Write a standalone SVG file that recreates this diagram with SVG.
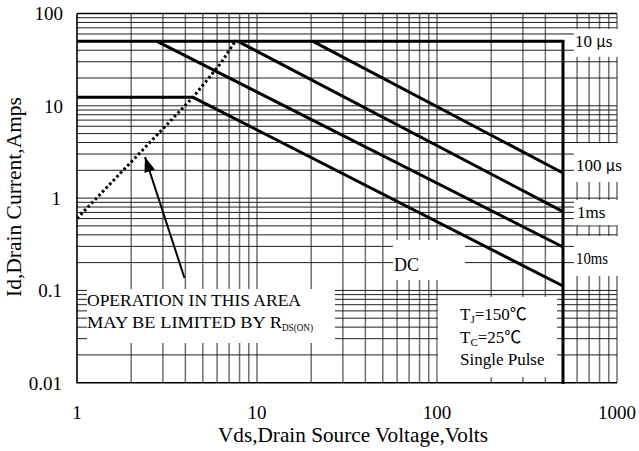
<svg xmlns="http://www.w3.org/2000/svg" width="639" height="451" viewBox="0 0 639 451">
<style>
.hg{stroke:#1e1e1e;stroke-width:1;fill:none}
.vg{stroke:#707070;stroke-width:1.5;fill:none}
.ax{stroke:#000;stroke-width:1.6;fill:none}
.soa{stroke:#000;stroke-width:3;fill:none;stroke-linejoin:miter}
.box{fill:#fff;stroke:none}
text{font-family:"Liberation Serif","Times New Roman",serif;fill:#000}
.tick{font-size:19px}
.ttl{font-size:21px}
.lbl{font-size:17px}
.sub{font-size:11px}
.cjk{font-family:"Noto Sans CJK SC","Liberation Serif",serif}
</style>
<defs>
<marker id="ah" markerUnits="userSpaceOnUse" markerWidth="16" markerHeight="12" refX="15" refY="5.5" orient="auto">
<path d="M0,0 L15,5.5 L0,11 z" fill="#000"/>
</marker>
</defs>
<rect width="639" height="451" fill="#fff"/>
<g id="grid">
<path class="vg" d="M131.19,13.5V382.7M162.88,13.5V382.7M185.37,13.5V382.7M202.81,13.5V382.7M217.07,13.5V382.7M229.12,13.5V382.7M239.56,13.5V382.7M248.76,13.5V382.7M257,13.5V382.7M311.19,13.5V382.7M342.88,13.5V382.7M365.37,13.5V382.7M382.81,13.5V382.7M397.07,13.5V382.7M409.12,13.5V382.7M419.56,13.5V382.7M428.76,13.5V382.7M437,13.5V382.7M491.19,13.5V382.7M522.88,13.5V382.7M545.37,13.5V382.7M577.07,13.5V382.7M589.12,13.5V382.7M599.56,13.5V382.7M608.76,13.5V382.7M617,13.5V382.7"/>
<path class="hg" d="M77,17.72H617M77,22.44H617M77,27.8H617M77,33.98H617M77,50.23H617M77,61.76H617M77,78.01H617M77,105.8H617M77,110.02H617M77,114.74H617M77,120.1H617M77,126.28H617M77,133.59H617M77,142.53H617M77,154.06H617M77,170.31H617M77,198.1H617M77,202.32H617M77,207.04H617M77,212.4H617M77,218.58H617M77,225.89H617M77,234.83H617M77,246.36H617M77,262.61H617M77,290.4H617M77,294.62H617M77,299.34H617M77,304.7H617M77,310.88H617M77,318.19H617M77,327.13H617M77,338.66H617M77,354.91H617"/>
<path class="ax" d="M77,13.5H617M77,13.5V382.7H617"/>
</g>
<g id="label-boxes">
<rect class="box" x="574" y="28.8" width="45" height="28"/>
<rect class="box" x="574" y="143.2" width="45" height="38.8"/>
<rect class="box" x="574" y="200" width="45" height="25.3"/>
<rect class="box" x="574" y="236" width="45" height="40"/>
<rect class="box" x="393" y="240" width="72" height="40"/>
<rect class="box" x="87" y="289" width="248" height="54"/>
<rect class="box" x="437.8" y="297" width="119.2" height="80"/>
</g>
<g id="connectors">
<path class="soa" d="M77,41.3H563V384"/>
<path class="soa" d="M313,41.3L563,173"/>
<path class="soa" d="M238,41.3L563,211.7"/>
<path class="soa" d="M157,41.3L563,247"/>
<path class="soa" d="M77,97.3H193L563,286"/>
<path d="M77,218.5L145,147.5L193,97.3L221,63L236,40" fill="none" stroke="#000" stroke-width="3" stroke-dasharray="2.6 2.6"/>
<path d="M184.5,278L145,157" fill="none" stroke="#000" stroke-width="2" marker-end="url(#ah)"/>
</g>
<g id="axis-labels">
<text class="tick" x="63" y="20" text-anchor="end">100</text>
<text class="tick" x="63" y="112.5" text-anchor="end">10</text>
<text class="tick" x="61" y="205" text-anchor="end">1</text>
<text class="tick" x="62" y="297" text-anchor="end">0.1</text>
<text class="tick" x="62" y="389.5" text-anchor="end">0.01</text>
<text class="tick" x="77" y="419" text-anchor="middle">1</text>
<text class="tick" x="257" y="419" text-anchor="middle">10</text>
<text class="tick" x="437" y="419" text-anchor="middle">100</text>
<text class="tick" x="617" y="419" text-anchor="middle">1000</text>
<text class="ttl" x="218" y="441.5" textLength="270" lengthAdjust="spacingAndGlyphs">Vds,Drain Source Voltage,Volts</text>
<text class="ttl" transform="translate(21,197) rotate(-90)" x="0" y="0" text-anchor="middle" textLength="200" lengthAdjust="spacingAndGlyphs">Id,Drain Current,Amps</text>
</g>
<g id="curve-labels">
<text class="lbl" x="575" y="46.7">10 <tspan class="cjk" font-size="15">μ</tspan>s</text>
<text class="lbl" x="576" y="170.7">100 <tspan class="cjk" font-size="15">μ</tspan>s</text>
<text class="lbl" x="577" y="218.3">1ms</text>
<text class="lbl" x="576" y="264" textLength="32" lengthAdjust="spacingAndGlyphs">10ms</text>
<text x="394" y="270.7" style="font-size:18px">DC</text>
</g>
<g id="note-rds">
<text class="lbl" x="87" y="306" textLength="214" lengthAdjust="spacingAndGlyphs">OPERATION IN THIS AREA</text>
<text class="lbl" x="87" y="328" textLength="195" lengthAdjust="spacingAndGlyphs">MAY BE LIMITED BY R</text>
<text class="sub" x="282" y="331" textLength="31" lengthAdjust="spacingAndGlyphs">DS(ON)</text>
</g>
<g id="note-conditions">
<text class="lbl" x="460" y="320">T<tspan class="sub" dy="2.5">J</tspan><tspan dy="-2.5">=150</tspan><tspan class="cjk">℃</tspan></text>
<text class="lbl" x="460" y="343.3">T<tspan class="sub" dy="2.5">C</tspan><tspan dy="-2.5">=25</tspan><tspan class="cjk">℃</tspan></text>
<text class="lbl" x="460" y="365">Single Pulse</text>
</g>
</svg>
